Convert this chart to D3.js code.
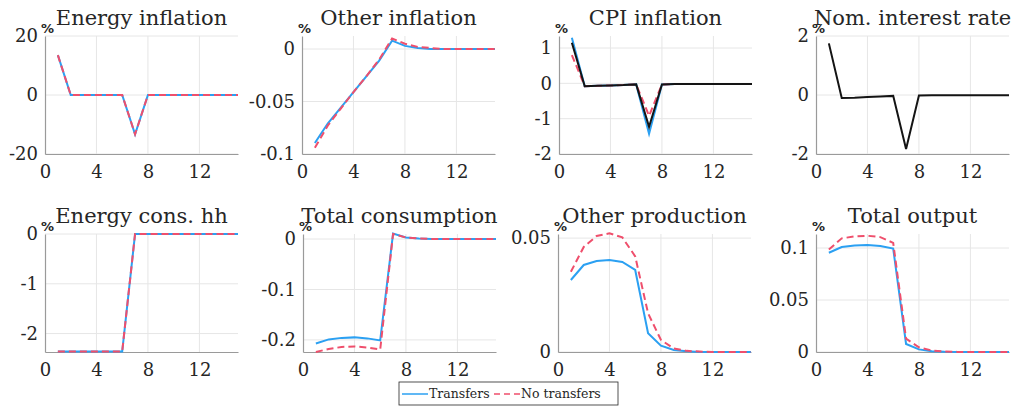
<!DOCTYPE html>
<html>
<head>
<meta charset="utf-8">
<script src="https://cdn.jsdelivr.net/npm/d3@7"></script>
<style>
  body { margin: 0; background: #fff; }
  svg { display: block; }
</style>
</head>
<body>
<div id="chart"></div>
<script>
// quarters after the shock
const periods = [1, 2, 3, 4, 5, 6, 7, 8, 9, 10, 11, 12, 13, 14, 15]
const xTicks = [0, 4, 8, 12]

// energy inflation
const energyInflTransfers = [13.5, 0, 0, 0, 0, 0, -13.3, 0, 0, 0, 0, 0, 0, 0, 0]
const energyInflNoTransfers = [13.5, 0, 0, 0, 0, 0, -13.3, 0, 0, 0, 0, 0, 0, 0, 0]
// other inflation
const otherInflTransfers = [-0.0895, -0.071, -0.056, -0.041, -0.026, -0.011, 0.008, 0.003, 0.001, 0, 0, 0, 0, 0, 0]
const otherInflNoTransfers = [-0.094, -0.073, -0.057, -0.041, -0.026, -0.010, 0.010, 0.005, 0.002, 0.001, 0, 0, 0, 0, 0]
// CPI inflation
const cpiTransfers = [1.29, -0.08, -0.07, -0.06, -0.05, -0.03, -1.43, -0.03, -0.02, -0.02, -0.02, -0.02, -0.02, -0.02, -0.02]
const cpiNoTransfers = [0.80, -0.08, -0.07, -0.06, -0.05, -0.03, -0.92, -0.03, -0.02, -0.02, -0.02, -0.02, -0.02, -0.02, -0.02]
const cpiBlack = [1.15, -0.08, -0.07, -0.06, -0.05, -0.03, -1.23, -0.03, -0.02, -0.02, -0.02, -0.02, -0.02, -0.02, -0.02]
// nominal interest rate
const rateBlack = [1.75, -0.10, -0.09, -0.07, -0.05, -0.03, -1.83, -0.02, -0.01, -0.01, -0.01, -0.01, -0.01, -0.01, -0.01]
// energy consumption of households
const energyConsTransfers = [-2.36, -2.36, -2.36, -2.36, -2.36, -2.36, 0, 0, 0, 0, 0, 0, 0, 0, 0]
const energyConsNoTransfers = [-2.36, -2.36, -2.36, -2.36, -2.36, -2.36, 0, 0, 0, 0, 0, 0, 0, 0, 0]
// total consumption
const totalConsTransfers = [-0.207, -0.199, -0.196, -0.195, -0.197, -0.201, 0.011, 0.003, 0.001, 0, 0, 0, 0, 0, 0]
const totalConsNoTransfers = [-0.224, -0.218, -0.214, -0.213, -0.215, -0.219, 0.010, 0.003, 0.001, 0, 0, 0, 0, 0, 0]
// other production
const otherProdTransfers = [0.0316, 0.0382, 0.0399, 0.0404, 0.0395, 0.036, 0.0082, 0.0028, 0.0009, 0.0003, 0, 0, 0, 0, 0]
const otherProdNoTransfers = [0.0352, 0.0461, 0.0509, 0.0521, 0.0503, 0.042, 0.017, 0.0053, 0.0015, 0.0005, 0.0002, 0, 0, 0, 0]
// total output
const totalOutTransfers = [0.0955, 0.101, 0.1025, 0.103, 0.102, 0.0995, 0.0077, 0.0025, 0.0008, 0.0002, 0, 0, 0, 0, 0]
const totalOutNoTransfers = [0.0985, 0.1093, 0.1112, 0.1118, 0.1105, 0.105, 0.0128, 0.0045, 0.0015, 0.0005, 0.0001, 0, 0, 0, 0]

const BLUE = '#2ba0f2'
const RED = '#ef4f6c'
const BLACK = '#141414'
const SERIF = "'DejaVu Serif', serif"

const panels = [
  { title: 'Energy inflation', left: 45, top: 36, yDomain: [-20, 20], yTicks: [-20, 0, 20],
    blue: energyInflTransfers, red: energyInflNoTransfers },
  { title: 'Other inflation', left: 302, top: 36, yDomain: [-0.1, 0.0124], yTicks: [-0.1, -0.05, 0],
    blue: otherInflTransfers, red: otherInflNoTransfers },
  { title: 'CPI inflation', left: 559, top: 36, yDomain: [-2, 1.34], yTicks: [-2, -1, 0, 1],
    blue: cpiTransfers, red: cpiNoTransfers, black: cpiBlack },
  { title: 'Nom. interest rate', left: 816, top: 36, yDomain: [-2, 2], yTicks: [-2, 0, 2],
    black: rateBlack },
  { title: 'Energy cons. hh', left: 45, top: 234, yDomain: [-2.37, 0], yTicks: [-2, -1, 0],
    blue: energyConsTransfers, red: energyConsNoTransfers },
  { title: 'Total consumption', left: 303, top: 234, yDomain: [-0.224, 0.01], yTicks: [-0.2, -0.1, 0],
    blue: totalConsTransfers, red: totalConsNoTransfers },
  { title: 'Other production', left: 558, top: 234, yDomain: [0, 0.0518], yTicks: [0, 0.05],
    blue: otherProdTransfers, red: otherProdNoTransfers },
  { title: 'Total output', left: 816, top: 234, yDomain: [0, 0.1135], yTicks: [0, 0.05, 0.1],
    blue: totalOutTransfers, red: totalOutNoTransfers }
]

const plotWidth = 193
const plotHeight = 118

const svg = d3.select('#chart')
  .append('svg')
  .attr('width', 1016)
  .attr('height', 406)

/**
 * Draws one small panel.
 *
 * @param {object} p The panel description
 */
function drawPanel (p) {
  const g = svg.append('g')
    .attr('transform', 'translate(' + p.left + ',' + p.top + ')')

  const x = d3.scaleLinear().domain([0, 15]).range([0, plotWidth])
  const y = d3.scaleLinear().domain(p.yDomain).range([plotHeight, 0])

  // grid
  g.append('g')
    .selectAll('line')
    .data(xTicks.filter(d => d > 0))
    .join('line')
    .attr('x1', d => x(d)).attr('x2', d => x(d))
    .attr('y1', 0).attr('y2', plotHeight)
    .attr('stroke', '#e6e6e6')
  g.append('g')
    .selectAll('line')
    .data(p.yTicks)
    .join('line')
    .attr('x1', 0).attr('x2', plotWidth)
    .attr('y1', d => y(d)).attr('y2', d => y(d))
    .attr('stroke', '#e6e6e6')

  // axes
  const xAxis = g.append('g')
    .attr('transform', 'translate(0,' + plotHeight + ')')
    .call(d3.axisBottom(x).tickValues(xTicks).tickSize(0).tickPadding(11).tickFormat(d3.format('d')))
  const yAxis = g.append('g')
    .call(d3.axisLeft(y).tickValues(p.yTicks).tickSize(0).tickPadding(7).tickFormat(d => String(d)))
  for (const ax of [xAxis, yAxis]) {
    ax.attr('font-family', null).attr('font-size', null)
    ax.select('.domain').attr('stroke', '#9a9a9a').attr('stroke-width', 1.2)
    ax.selectAll('text')
      .style('font-family', SERIF)
      .style('font-size', '18px')
      .attr('fill', '#262626')
  }

  const line = d3.line()
    .x((d, i) => x(periods[i]))
    .y(d => y(d))

  if (p.blue) {
    g.append('path').datum(p.blue)
      .attr('d', line).attr('fill', 'none')
      .attr('stroke', BLUE).attr('stroke-width', 2)
  }
  if (p.red) {
    g.append('path').datum(p.red)
      .attr('d', line).attr('fill', 'none')
      .attr('stroke', RED).attr('stroke-width', 2)
      .attr('stroke-dasharray', '7,4')
  }
  if (p.black) {
    g.append('path').datum(p.black)
      .attr('d', line).attr('fill', 'none')
      .attr('stroke', BLACK).attr('stroke-width', 2)
  }

  g.append('text')
    .attr('x', plotWidth / 2)
    .attr('y', -11)
    .attr('text-anchor', 'middle')
    .style('font-family', SERIF)
    .style('font-size', '21px')
    .attr('fill', '#262626')
    .text(p.title)

  g.append('text')
    .attr('x', -4)
    .attr('y', -3)
    .style('font-family', "'DejaVu Sans', sans-serif")
    .style('font-size', '13px')
    .style('font-weight', 'bold')
    .attr('fill', '#262626')
    .text('%')
}

panels.forEach(drawPanel)

// legend
const legend = svg.append('g').attr('transform', 'translate(399,382)')
legend.append('rect')
  .attr('width', 219).attr('height', 23)
  .attr('fill', '#fff').attr('stroke', '#262626').attr('stroke-width', 0.8)
legend.append('line')
  .attr('x1', 3).attr('x2', 29).attr('y1', 12).attr('y2', 12)
  .attr('stroke', BLUE).attr('stroke-width', 1.5)
legend.append('text')
  .attr('x', 30).attr('y', 16)
  .style('font-family', SERIF).style('font-size', '12.5px').attr('fill', '#262626')
  .text('Transfers')
legend.append('line')
  .attr('x1', 95).attr('x2', 121).attr('y1', 12).attr('y2', 12)
  .attr('stroke', RED).attr('stroke-width', 1.5).attr('stroke-dasharray', '6,4')
legend.append('text')
  .attr('x', 122).attr('y', 16)
  .style('font-family', SERIF).style('font-size', '12.5px').attr('fill', '#262626')
  .text('No transfers')
</script>
</body>
</html>
